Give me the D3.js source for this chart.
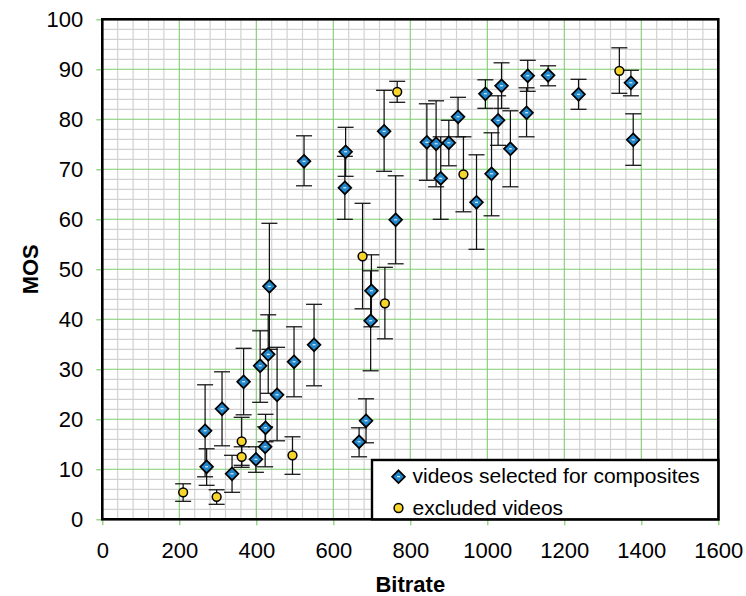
<!DOCTYPE html>
<html>
<head>
<meta charset="utf-8">
<script src="https://cdn.jsdelivr.net/npm/d3@7"></script>
<style>
  body { margin: 0; background: #fff; }
  svg { display: block; font-family: "Liberation Sans", Arial, Helvetica, sans-serif; }
</style>
</head>
<body>
<svg id="chart" width="746" height="596"></svg>
<script>
// ---- data ----
const xTicks = [0, 200, 400, 600, 800, 1000, 1200, 1400, 1600];
const yTicks = [0, 10, 20, 30, 40, 50, 60, 70, 80, 90, 100];

// videos selected for composites: bitrate, MOS, upper and lower error bound
const selX  = [267, 271, 311, 337, 367, 399, 410, 423, 424, 431, 434, 454, 498, 524, 550, 632, 630, 667, 685, 697, 699, 732, 762, 843, 867, 879, 900, 924, 972, 995, 1011, 1028, 1037, 1060, 1105, 1102, 1158, 1237, 1373, 1379];
const selY  = [17.7, 10.5, 22.1, 9.1, 27.5, 12.0, 30.7, 14.5, 18.3, 33.0, 46.6, 24.9, 31.5, 71.6, 34.9, 73.5, 66.3, 15.5, 19.7, 39.7, 45.7, 77.6, 59.9, 75.4, 75.1, 68.2, 75.3, 80.5, 63.4, 85.1, 69.1, 79.8, 86.7, 74.1, 88.7, 81.3, 88.8, 85.0, 87.3, 75.9];
const selHi = [26.9, 14.1, 29.5, 12.8, 34.2, 14.5, 37.7, 18.5, 21.0, 40.9, 59.2, 34.4, 38.5, 76.7, 43.0, 78.4, 72.6, 18.3, 24.1, 49.7, 52.9, 85.8, 68.7, 83.1, 83.7, 76.5, 79.8, 84.4, 72.9, 87.9, 77.3, 84.7, 91.3, 81.7, 91.8, 86.3, 90.7, 88.0, 89.8, 81.1];
const selLo = [8.5, 6.8, 14.7, 5.4, 20.9, 9.4, 23.4, 10.5, 15.5, 25.2, 34.0, 15.7, 24.5, 66.7, 26.7, 68.6, 60.0, 12.5, 15.3, 29.7, 38.5, 69.6, 51.1, 67.8, 66.5, 60.0, 70.7, 76.5, 54.0, 82.2, 60.7, 74.8, 82.2, 66.5, 85.6, 76.5, 86.7, 82.0, 84.7, 70.8];

// excluded videos
const excX  = [210, 297, 362, 362, 494, 676, 734, 766, 938, 1343];
const excY  = [5.4, 4.5, 15.6, 12.5, 12.8, 52.6, 43.2, 85.5, 69.0, 89.7];
const excHi = [7.1, 5.9, 20.4, 14.5, 16.5, 63.2, 50.4, 87.6, 76.5, 94.3];
const excLo = [3.6, 3.0, 10.8, 10.4, 9.0, 42.1, 36.1, 83.4, 61.5, 85.2];

const legendLabels = ["videos selected for composites", "excluded videos"];

// ---- layout ----
const W = 746, H = 596;
const m = { left: 102.3, right: 27.7, top: 19.3, bottom: 76.7 };
const iw = W - m.left - m.right, ih = H - m.top - m.bottom;

const svg = d3.select("#chart");
const g = svg.append("g").attr("transform", `translate(${m.left},${m.top})`);

const x = d3.scaleLinear().domain([0, 1600]).range([0, iw]);
const y = d3.scaleLinear().domain([0, 100]).range([ih, 0]);

// minor grid
const minorX = d3.range(0, 1601, 40).filter(v => v % 200 !== 0);
const minorY = d3.range(0, 101, 2).filter(v => v % 10 !== 0);
g.append("g").selectAll("line").data(minorX).join("line")
  .attr("x1", d => x(d)).attr("x2", d => x(d)).attr("y1", 0).attr("y2", ih)
  .attr("stroke", "#d2d2d2").attr("stroke-width", 1.2);
g.append("g").selectAll("line").data(minorY).join("line")
  .attr("y1", d => y(d)).attr("y2", d => y(d)).attr("x1", 0).attr("x2", iw)
  .attr("stroke", "#d2d2d2").attr("stroke-width", 1.2);
// major grid
g.append("g").selectAll("line").data(xTicks).join("line")
  .attr("x1", d => x(d)).attr("x2", d => x(d)).attr("y1", 0).attr("y2", ih)
  .attr("stroke", "#7fcc6f").attr("stroke-width", 1.1);
g.append("g").selectAll("line").data(yTicks).join("line")
  .attr("y1", d => y(d)).attr("y2", d => y(d)).attr("x1", 0).attr("x2", iw)
  .attr("stroke", "#7fcc6f").attr("stroke-width", 1.1);

// axes
const xAxis = g.append("g").attr("transform", `translate(0,${ih})`)
  .call(d3.axisBottom(x).tickValues(xTicks).tickSize(6).tickPadding(17).tickFormat(d3.format("d")));
const yAxis = g.append("g")
  .call(d3.axisLeft(y).tickValues(yTicks).tickSize(6).tickPadding(13).tickFormat(d3.format("d")));
[xAxis, yAxis].forEach(a => {
  a.select(".domain").remove();
  a.selectAll(".tick line").attr("stroke", "#7fcc6f").attr("stroke-width", 1.2);
  a.selectAll(".tick text").attr("fill", "#000").style("font-size", "22px")
    .style("font-family", '"Liberation Sans", Arial, Helvetica, sans-serif');
});

// error bars + markers
const cap = 8;
function drawSeries(xs, ys, his, los, kind) {
  const data = xs.map((v, i) => ({ x: v, y: ys[i], hi: his[i], lo: los[i] }));
  const eb = g.append("g").attr("stroke", "#111").attr("stroke-width", 1.25);
  eb.selectAll("line.v").data(data).join("line").attr("class", "v")
    .attr("x1", d => x(d.x)).attr("x2", d => x(d.x)).attr("y1", d => y(d.hi)).attr("y2", d => y(d.lo));
  eb.selectAll("line.t").data(data).join("line").attr("class", "t")
    .attr("x1", d => x(d.x) - cap).attr("x2", d => x(d.x) + cap).attr("y1", d => y(d.hi)).attr("y2", d => y(d.hi));
  eb.selectAll("line.b").data(data).join("line").attr("class", "b")
    .attr("x1", d => x(d.x) - cap).attr("x2", d => x(d.x) + cap).attr("y1", d => y(d.lo)).attr("y2", d => y(d.lo));
  const mk = g.append("g");
  data.forEach(d => drawMarker(mk, x(d.x), y(d.y), kind));
}
function drawMarker(sel, cx, cy, kind) {
  if (kind === "diamond") {
    const r = 6.4;
    sel.append("path")
      .attr("d", `M${cx},${cy - r}L${cx + r},${cy}L${cx},${cy + r}L${cx - r},${cy}Z`)
      .attr("fill", "#2187cc").attr("stroke", "#000").attr("stroke-width", 1.7);
    sel.append("line").attr("x1", cx - 1.5).attr("x2", cx + 1.5).attr("y1", cy).attr("y2", cy)
      .attr("stroke", "#fff").attr("stroke-width", 1);
  } else {
    sel.append("circle").attr("cx", cx).attr("cy", cy).attr("r", 4.4)
      .attr("fill", "#f7d52a").attr("stroke", "#000").attr("stroke-width", 1.5);
  }
}
drawSeries(selX, selY, selHi, selLo, "diamond");
drawSeries(excX, excY, excHi, excLo, "circle");

// frame
g.append("rect").attr("x", 0).attr("y", 0).attr("width", iw).attr("height", ih)
  .attr("fill", "none").attr("stroke", "#000").attr("stroke-width", 2.6);

// legend
const lg = svg.append("g");
lg.append("rect").attr("x", 372).attr("y", 460).attr("width", 718.3 - 372).attr("height", 519.3 - 460)
  .attr("fill", "#fff").attr("stroke", "#000").attr("stroke-width", 2.4);
drawMarker(lg, 398.5, 476.7, "diamond");
drawMarker(lg, 398.5, 508, "circle");
lg.append("text").attr("x", 412.5).attr("y", 482.5).text(legendLabels[0])
  .style("font-size", "21px").attr("fill", "#000");
lg.append("text").attr("x", 412.5).attr("y", 514.5).text(legendLabels[1])
  .style("font-size", "21px").attr("fill", "#000");

// axis titles
svg.append("text").attr("x", m.left + iw / 2).attr("y", 592).attr("text-anchor", "middle")
  .style("font-size", "22px").style("font-weight", "bold").text("Bitrate");
svg.append("text").attr("transform", `translate(38,${m.top + ih / 2}) rotate(-90)`)
  .attr("text-anchor", "middle").style("font-size", "22px").style("font-weight", "bold").text("MOS");
</script>
</body>
</html>
